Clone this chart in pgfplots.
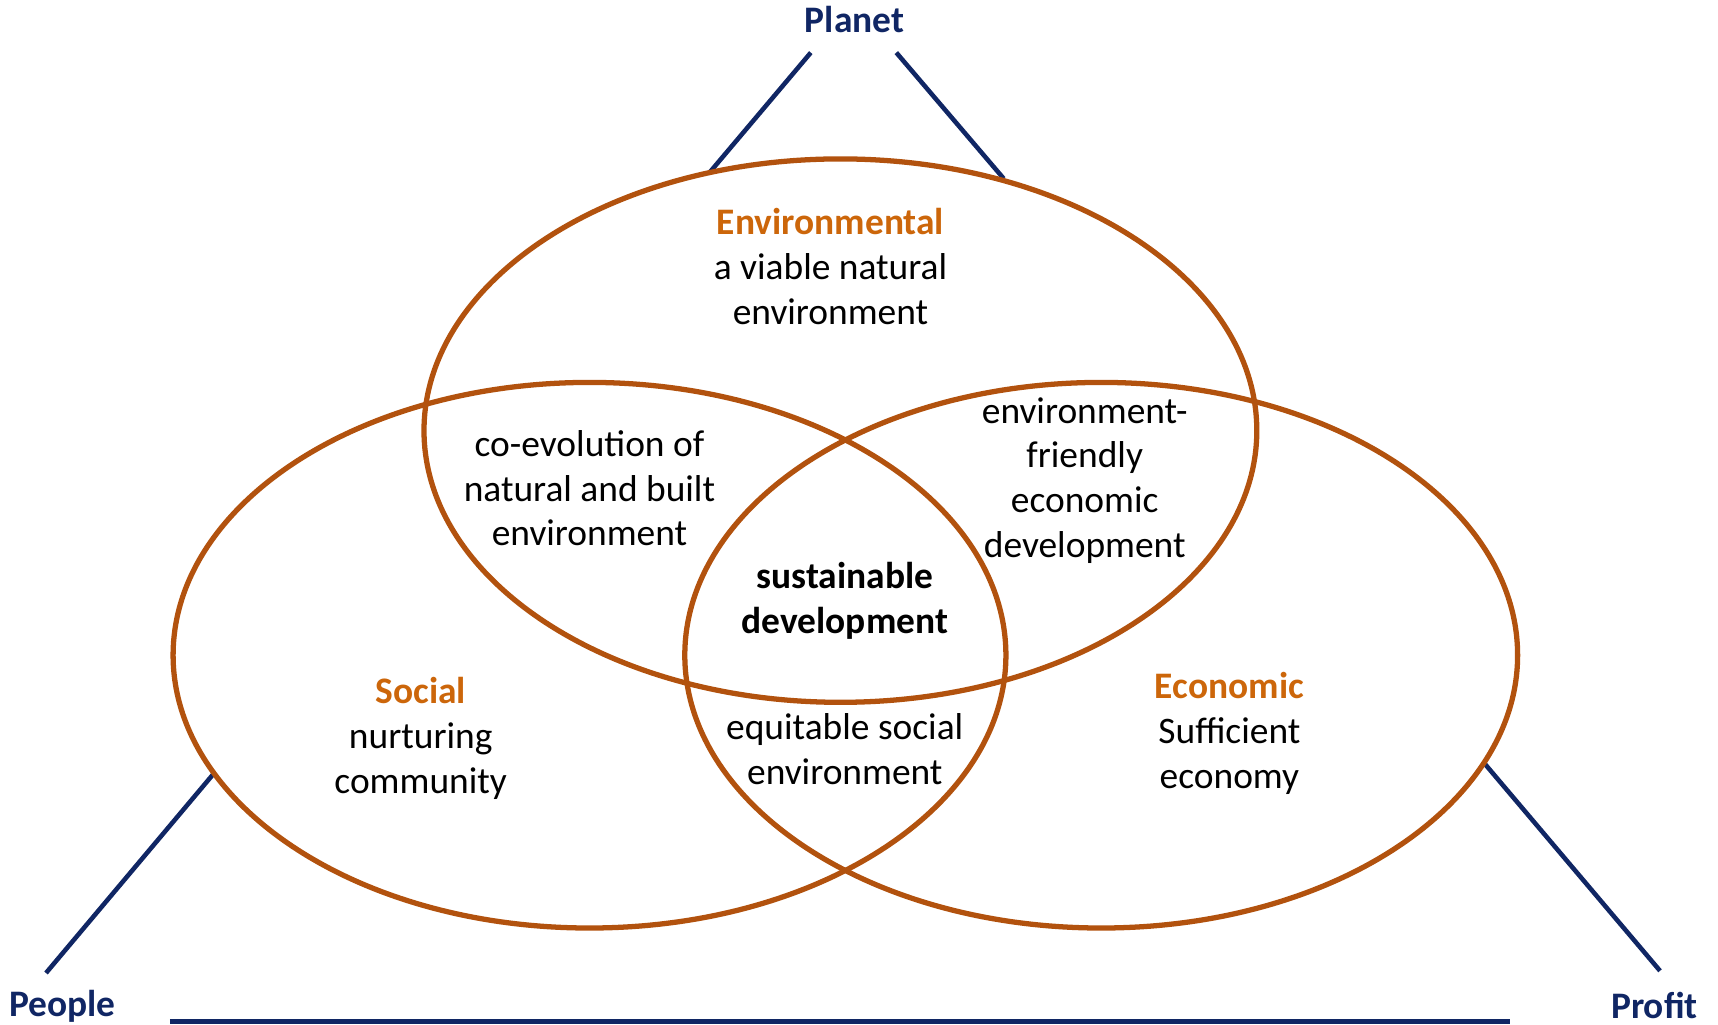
\documentclass[border=0pt]{standalone}
\usepackage{pgfplots}
\pgfplotsset{compat=1.18}
\usepackage{fontspec}
\setmainfont{Carlito}
\definecolor{navy}{RGB}{16,38,100}
\definecolor{ring}{RGB}{178,82,14}
\definecolor{lab}{RGB}{204,102,10}
\begin{document}
\begin{tikzpicture}
\begin{axis}[scale only axis, width=17.18cm, height=10.24cm,
  xmin=0, xmax=1718, ymin=0, ymax=1024, y dir=reverse, hide axis, clip=false]
% connector lines
\addplot[navy, line width=1.3pt] coordinates {(710,172) (810.8,52.6)};
\addplot[navy, line width=1.3pt] coordinates {(896.3,52.6) (1003.7,178.6)};
\addplot[navy, line width=1.3pt] coordinates {(213.7,773.6) (46,973)};
\addplot[navy, line width=1.3pt] coordinates {(1484.7,763.7) (1660,970.8)};
\addplot[navy, line width=1.3pt] coordinates {(169.8,1021.2) (1509.9,1021.2)};
% ellipses
\draw[ring, line width=1.5pt] (axis cs:840.4,430.6) ellipse [x radius=416.4cm*0.01, y radius=271.7cm*0.01];
\draw[ring, line width=1.5pt] (axis cs:589.5,655.2) ellipse [x radius=416.4cm*0.01, y radius=272.8cm*0.01];
\draw[ring, line width=1.5pt] (axis cs:1101.2,655.2) ellipse [x radius=416.4cm*0.01, y radius=272.8cm*0.01];
% labels
\begin{scope}[every node/.style={font=\fontsize{10.65}{12.75}\selectfont, align=center, inner sep=0pt}]
\node[navy, font=\fontsize{10.65}{12.75}\selectfont\bfseries] at (axis cs:854.6,19.7) {Planet};
\node[navy, font=\fontsize{10.65}{12.75}\selectfont\bfseries] at (axis cs:62.5,1005.9) {People};
\node[navy, font=\fontsize{10.65}{12.75}\selectfont\bfseries] at (axis cs:1654.5,1005.9) {Profit};
\node at (axis cs:830.5,266.3) {{\bfseries\color{lab}Environmental}\\a viable natural\\environment};
\node at (axis cs:589.5,488.2) {co-evolution of\\natural and built\\environment};
\node at (axis cs:1084.7,480.4) {environment-\\friendly\\economic\\development};
\node[font=\fontsize{10.65}{12.75}\selectfont\bfseries] at (axis cs:844.8,600.9) {sustainable\\development};
\node at (axis cs:420.7,738.4) {{\bfseries\color{lab}Social}\\nurturing\\community};
\node at (axis cs:844.8,748.9) {equitable social\\environment};
\node at (axis cs:1229.4,733.4) {{\bfseries\color{lab}Economic}\\Sufficient\\economy};
\end{scope}
\end{axis}
\pgfresetboundingbox
\path[use as bounding box] (current axis.south west) rectangle (current axis.north east);
\end{tikzpicture}
\end{document}
